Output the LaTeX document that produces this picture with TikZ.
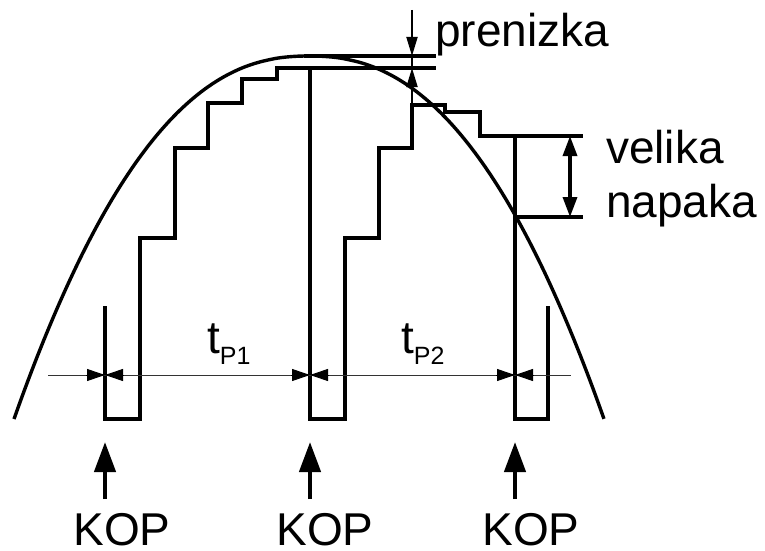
\documentclass[tikz,border=0pt]{standalone}
\usepackage{fontspec}
\setmainfont{Liberation Sans}
\usetikzlibrary{arrows.meta}
\tikzset{
  stair/.style={line width=3.6pt},
  curve/.style={line width=3.4pt},
  dimline/.style={line width=1pt, draw=black!80},
  dimtip/.style={line width=1pt, -{Triangle[length=18pt,width=12pt]}},
  pretip/.style={line width=1.8pt, -{Triangle[length=19pt,width=11pt]}},
  errtip/.style={line width=3.4pt, {Triangle[length=20pt,width=14pt]}-{Triangle[length=20pt,width=14pt]}},
  koparrow/.style={line width=4.4pt, -{Triangle[length=30pt,width=21pt]}},
  lbl/.style={inner sep=0pt, font=\fontsize{46}{54}\selectfont},
}
\newcommand{\subP}[1]{\raisebox{-11pt}{\fontsize{25}{25}\selectfont P#1}}

\begin{document}
\begin{tikzpicture}[x=1pt,y=-1pt]
  \useasboundingbox (0,0) rectangle (765,551);
  % signal
  \draw[curve] plot[domain=-1:1, samples=80, smooth] ({309+295*\x},{56+363*abs(\x)^2.3});
  % pulse positions
  \coordinate (p1) at (105,442);  \coordinate (q1) at (105,499);
  \coordinate (p2) at (310,442);  \coordinate (q2) at (310,499);
  \coordinate (p3) at (515,442);  \coordinate (q3) at (515,499);
  % staircases
  \draw[stair] (105,306) |- (140,419) |- (175,238) |- (208,148) |- (242,103) |- (277,79) |- (436,68);
  \draw[stair] (310,68) |- (345,419) |- (379,238) |- (412,148) |- (445,105) |- (480,112) |- (583,136);
  \draw[stair] (515,136) |- (548,419) -- (548,306);
  \draw[stair] (304,56) -- (436,56);
  \draw[stair] (515,217) -- (583,217);
  % prenizka
  \draw[pretip] (412,10) -- (412,56);
  \draw[pretip] (412,105) -- (412,68);
  \draw[line width=1.2pt] (412,56) -- (412,68);
  % velika napaka
  \draw[errtip] (570,136) -- (570,217);
  % t_P dimensions
  \draw[dimline] (48,375) -- (571,375);
  \foreach \px in {105,310,515}{
    \draw[dimtip] (\px-19,375) -- (\px,375);
    \draw[dimtip] (\px+19,375) -- (\px,375);
  }
  % KOP
  \draw[koparrow] (q1) -- (p1);
  \draw[koparrow] (q2) -- (p2);
  \draw[koparrow] (q3) -- (p3);
  \node[lbl, text depth=0pt, anchor=base] (kop1) at (122,545) {KOP};
  \node[lbl, text depth=0pt, anchor=base] (kop2) at (325,545) {KOP};
  \node[lbl, text depth=0pt, anchor=base] (kop3) at (531,545) {KOP};
  % labels
  \node[lbl, anchor=base west] (tp1) at (207,353) {t\subP{1}};
  \node[lbl, anchor=base west] (tp2) at (401,353) {t\subP{2}};
  \node[lbl, anchor=base west] (pren) at (435,47) {prenizka};
  \node[lbl, anchor=base west] (vel) at (606,163) {velika};
  \node[lbl, anchor=base west] (nap) at (606,217) {napaka};
\end{tikzpicture}
\end{document}
